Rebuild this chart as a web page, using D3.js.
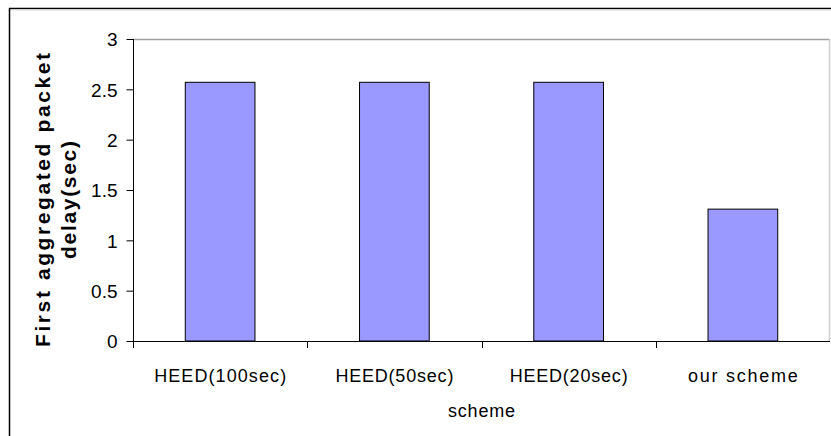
<!DOCTYPE html>
<html>
<head>
<meta charset="utf-8">
<script src="https://cdn.jsdelivr.net/npm/d3@7"></script>
<style>
  html, body { margin: 0; padding: 0; background: #fff; }
  svg { display: block; font-family: "Liberation Sans", Arial, sans-serif; }
</style>
</head>
<body>
<svg id="chart" width="831" height="436"></svg>
<script>
// ---- data ----
const categories = ["HEED(100sec)", "HEED(50sec)", "HEED(20sec)", "our scheme"];
const delayValues = [2.57, 2.57, 2.57, 1.31];
const yTickValues = [0, 0.5, 1, 1.5, 2, 2.5, 3];
const yTitleLines = ["First aggregated packet", "delay(sec)"];
const xTitle = "scheme";

// ---- layout / style ----
const W = 831, H = 436;
const plot = { left: 133, right: 830, top: 39, bottom: 341 };
const barFill = "#9999FF";
const labelWidths = { "HEED(100sec)": 132, "HEED(50sec)": 118, "HEED(20sec)": 118, "our scheme": 110 };

const svg = d3.select("#chart");

// outer frame
svg.append("line").attr("x1", 9).attr("x2", W).attr("y1", 8.5).attr("y2", 8.5)
  .attr("stroke", "#000").attr("stroke-width", 1.5);
svg.append("line").attr("x1", 9).attr("x2", W).attr("y1", 10).attr("y2", 10)
  .attr("stroke", "#ddd").attr("stroke-width", 1);
svg.append("line").attr("x1", 9.5).attr("x2", 9.5).attr("y1", 8).attr("y2", H)
  .attr("stroke", "#000").attr("stroke-width", 1.5);

const x = d3.scaleBand().domain(categories)
  .range([plot.left, plot.right]).paddingInner(0.6).paddingOuter(0.3);
const y = d3.scaleLinear().domain([0, 3]).range([plot.bottom, plot.top]);

// plot area top and right borders (gray)
svg.append("line").attr("x1", plot.left).attr("x2", plot.right)
  .attr("y1", y(3) + 0.5).attr("y2", y(3) + 0.5)
  .attr("stroke", "#a0a0a0").attr("stroke-width", 1.5);
svg.append("line").attr("x1", plot.right - 0.5).attr("x2", plot.right - 0.5)
  .attr("y1", y(3)).attr("y2", y(0))
  .attr("stroke", "#d0d0d0").attr("stroke-width", 1.5);

// bars
svg.append("g").selectAll("rect").data(categories).join("rect")
  .attr("x", d => x(d))
  .attr("y", (d, i) => y(delayValues[i]))
  .attr("width", x.bandwidth())
  .attr("height", (d, i) => y(0) - y(delayValues[i]))
  .attr("fill", barFill)
  .attr("stroke", "#000")
  .attr("stroke-width", 1);

// y axis
const yAxis = d3.axisLeft(y).tickValues(yTickValues).tickSize(7).tickPadding(9)
  .tickFormat(d => String(d));
const gy = svg.append("g").attr("transform", `translate(${plot.left + 0.5},0)`).call(yAxis);
gy.select(".domain").remove();
gy.append("line").attr("x1", 0).attr("x2", 0).attr("y1", y(3)).attr("y2", y(0) + 7)
  .attr("stroke", "#000");
gy.selectAll(".tick line").attr("stroke", "#000");
gy.selectAll(".tick text").attr("font-size", 19).attr("fill", "#000")
  .attr("font-family", "Liberation Sans, Arial, sans-serif").attr("dy", "0.36em");

// x axis line
svg.append("line").attr("x1", plot.left).attr("x2", plot.right)
  .attr("y1", y(0) + 0.5).attr("y2", y(0) + 0.5).attr("stroke", "#000");
// x tick marks at band boundaries
const boundaries = categories.slice(0, -1).map(c => x(c) + x.bandwidth() / 2 + x.step() / 2);
svg.append("g").selectAll("line").data(boundaries).join("line")
  .attr("x1", d => Math.round(d) + 0.5).attr("x2", d => Math.round(d) + 0.5)
  .attr("y1", y(0)).attr("y2", y(0) + 7).attr("stroke", "#000");

// x labels
svg.append("g").selectAll("text").data(categories).join("text")
  .attr("x", d => x(d) + x.bandwidth() / 2)
  .attr("y", 382)
  .attr("text-anchor", "middle")
  .attr("font-size", 18)
  .attr("textLength", d => labelWidths[d])
  .attr("lengthAdjust", "spacing")
  .text(d => d);

// x title
svg.append("text").attr("x", (plot.left + plot.right) / 2).attr("y", 417)
  .attr("text-anchor", "middle").attr("font-size", 18)
  .attr("textLength", 67).attr("lengthAdjust", "spacing").text(xTitle);

// y title (two lines, rotated)
const cy = 200;
const yTitleBaselines = [50, 76];
const yTitleLengths = [294, 118];
yTitleLines.forEach((t, i) => {
  svg.append("text")
    .attr("transform", `translate(${yTitleBaselines[i]},${cy}) rotate(-90)`)
    .attr("text-anchor", "middle")
    .attr("font-size", 21).attr("font-weight", "bold")
    .attr("textLength", yTitleLengths[i]).attr("lengthAdjust", "spacing")
    .text(t);
});
</script>
</body>
</html>
